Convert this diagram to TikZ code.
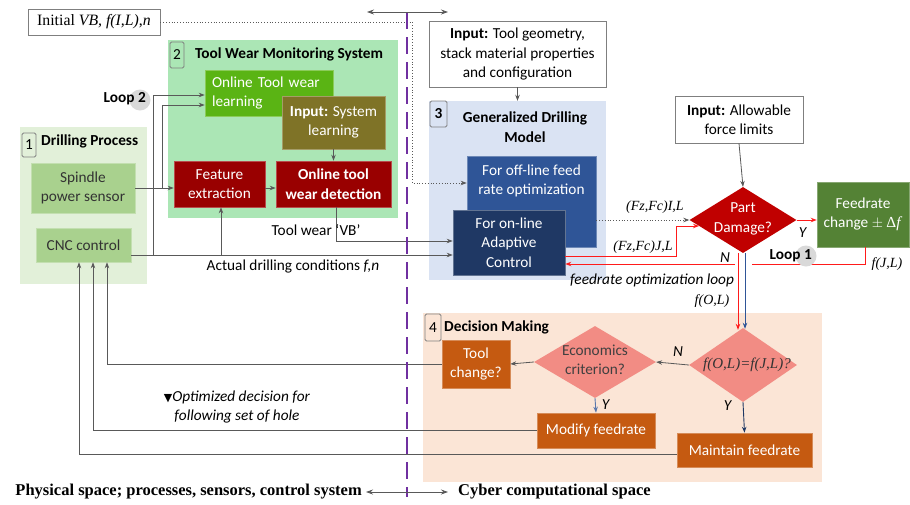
\documentclass[tikz,border=0pt]{standalone}
\usepackage{fontspec}
\setmainfont{Carlito}
\newfontfamily\serifface{Liberation Serif}
\newfontfamily\symface{DejaVu Sans}
\usetikzlibrary{shapes.geometric,arrows.meta,calc}

\definecolor{lgrey}{HTML}{595959}
\definecolor{numgrey}{HTML}{7F7F7F}
\definecolor{bgone}{HTML}{E2F0D9}
\definecolor{bgtwo}{HTML}{ABE6B5}
\definecolor{bgthree}{HTML}{DAE3F3}
\definecolor{bgfour}{HTML}{FBE5D6}
\definecolor{sensgreen}{HTML}{A9D18E}
\definecolor{learngreen}{HTML}{5AB414}
\definecolor{olive}{HTML}{7F7327}
\definecolor{darkred}{HTML}{990000}
\definecolor{damagered}{HTML}{C00000}
\definecolor{changegreen}{HTML}{548235}
\definecolor{offblue}{HTML}{2F5597}
\definecolor{onnavy}{HTML}{1F3864}
\definecolor{decorange}{HTML}{C55A11}
\definecolor{pinkdia}{HTML}{F28C84}
\definecolor{purpleline}{HTML}{7030A0}
\definecolor{looplabel}{HTML}{D9D9D9}
\definecolor{hotred}{HTML}{FF1A1A}

\newcommand{\sit}[1]{{\serifface\itshape #1}}

\begin{document}
\begin{tikzpicture}[x=1pt,y=-1pt,
  font=\fontsize{15.3}{19.5}\selectfont,
  group/.style={inner sep=0pt, draw=none},
  blk/.style={inner sep=2pt, align=center, text=white, line width=0.6pt},
  inbox/.style={draw=numgrey, fill=white, line width=0.8pt, align=center, inner sep=2pt},
  num/.style={draw=numgrey, rounded corners=1.5pt, inner sep=0pt, line width=0.8pt},
  dia/.style={diamond, inner sep=0pt, draw=none},
  conn/.style={draw=lgrey, line width=0.8pt},
  tip/.style={-{Stealth[length=6pt,width=4.5pt]}},
  arr/.style={conn, tip},
  redarr/.style={draw=hotred, line width=1pt, tip},
  bluearr/.style={draw=offblue, line width=0.9pt, tip},
  lbl/.style={inner sep=1pt},
  titl/.style={font=\fontsize{15.3}{20}\selectfont\bfseries, inner sep=0pt},
  sidelbl/.style={inner sep=0pt, font=\fontsize{16.5}{20}\selectfont\serifface\bfseries}
]
\useasboundingbox (0,0) rectangle (910,504);

% ---------- group panels ----------
\node[group, fill=bgone, minimum width=127pt, minimum height=157pt] (dp) at (83.5,205.5) {};
\node[group, fill=bgtwo, minimum width=230pt, minimum height=178pt] (tw) at (283,129) {};
\node[group, fill=bgthree, minimum width=177pt, minimum height=179pt] (gdm) at (517.5,190.5) {};
\node[group, fill=bgfour, minimum width=399pt, minimum height=169pt] (dm) at (622.5,397.5) {};

\node[num, minimum width=14pt, minimum height=24pt] (n1) at (29,145) {1};
\node[num, minimum width=14pt, minimum height=26pt] (n2) at (177,55) {2};
\node[num, minimum width=17pt, minimum height=26pt, font=\fontsize{15.3}{19.5}\selectfont\bfseries] (n3) at (438.5,114) {3};
\node[num, minimum width=16pt, minimum height=27pt] (n4) at (433,327.5) {4};

\node[titl, anchor=west] (t1) at (41,141) {Drilling Process};
\node[titl, anchor=west] (t2) at (195,54) {Tool Wear Monitoring System};
\node[titl, align=center] (t3) at (525,127.5) {Generalized Drilling\\Model};
\node[titl, anchor=west] (t4) at (444,327) {Decision Making};

% ---------- blocks ----------
\node[inbox, minimum width=132pt, minimum height=26pt, font=\fontsize{15.8}{19}\selectfont] (init) at (94,22)
  {\serifface Initial \textit{VB, f(I,L)},\textit{n}};

\node[blk, fill=sensgreen, draw=sensgreen!70!white, text=black!80, minimum width=104pt, minimum height=50pt] (sps) at (83,188) {Spindle\\power sensor};
\node[blk, fill=sensgreen, draw=sensgreen!70!white, text=black!80, minimum width=95pt, minimum height=34pt] (cnc) at (83.5,245) {CNC control};

\node[blk, fill=learngreen, draw=learngreen!70!white, minimum width=128pt, minimum height=46pt, align=left, text width=114pt] (otl) at (269,93) {Online Tool wear\\learning};
\node[blk, fill=olive, draw=olive!70!white, minimum width=103pt, minimum height=53pt] (isl) at (333.5,122.5) {\textbf{Input:} System\\learning};
\node[blk, fill=darkred, draw=darkred!70!white, minimum width=91pt, minimum height=46pt] (fe) at (219.5,184) {Feature\\extraction};
\node[blk, fill=darkred, draw=darkred!70!white, minimum width=115pt, minimum height=46pt, font=\fontsize{15.3}{19.5}\selectfont\bfseries] (otd) at (333.5,184) {Online tool\\wear detection};

\node[inbox, minimum width=177pt, minimum height=66pt] (itg) at (517.5,54)
  {\textbf{Input:} Tool geometry,\\stack material properties\\and configuration};
\node[blk, fill=offblue, draw=offblue!70!white, minimum width=129pt, minimum height=91pt] (off) at (531.5,201.5) {};
\node[lbl, text=white, align=center] (offt) at (531.5,181) {For off-line feed\\rate optimization};
\node[blk, fill=onnavy, draw=onnavy!70!white, minimum width=112pt, minimum height=65pt] (on) at (509,242.5) {For on-line\\Adaptive\\Control};

\node[inbox, minimum width=128pt, minimum height=47pt] (afl) at (739,119.5) {\textbf{Input:} Allowable\\force limits};
\node[dia, fill=damagered, minimum width=107pt, minimum height=66pt] (pd) at (743,220) {};
\node[lbl, text=white, align=center] (pdt) at (743,219) {Part\\Damage?};
\node[blk, fill=changegreen, draw=changegreen!70!white, minimum width=92pt, minimum height=65pt] (fcd) at (863,214.5) {Feedrate\\change $\pm$ {\serifface Δ\textit{f}}};

\node[blk, fill=decorange, draw=decorange!70!white, minimum width=68pt, minimum height=48pt] (tc) at (476,364) {Tool\\change?};
\node[dia, fill=pinkdia, minimum width=122pt, minimum height=72pt] (ec) at (595,362) {};
\node[lbl, text=black!75, align=center] (ect) at (595,360) {Economics\\criterion?};
\node[dia, fill=pinkdia, minimum width=108pt, minimum height=74pt] (fo) at (743,365) {};
\node[lbl, text=black!80, font=\fontsize{15}{18}\selectfont] (fot) at (747,365) {\sit{f(O,L)=f(J,L)?}};
\node[blk, fill=decorange, draw=decorange!70!white, minimum width=118pt, minimum height=35pt] (mf) at (596,430.5) {Modify feedrate};
\node[blk, fill=decorange, draw=decorange!70!white, minimum width=135pt, minimum height=34pt] (mt) at (744.5,450) {Maintain feedrate};

% ---------- bend and junction points ----------
\coordinate (bendA) at (412,183);
\coordinate (j1) at (162,188);
\coordinate (j2) at (153,255);
\coordinate (j3) at (221,255);
\coordinate (k1) at (676,226);
\coordinate (g1) at (752,264);
\coordinate (g2) at (735,264);
\coordinate (ta1) at (367,12);
\coordinate (ta2) at (448,12);
\coordinate (pv1) at (407,12);
\coordinate (pv2) at (407,497);

% ---------- physical side connectors ----------
\draw[conn, dotted, tip] (init.east) -| (bendA) -- (bendA -| off.west);
\draw[arr] (sps.east) -- (sps.east -| fe.west);
\draw[arr] (j1) |- ([yshift=-12pt]otl.west);
\draw[arr] ([yshift=-10pt]cnc.east) -- ([yshift=-12.5pt]on.west);
\draw[arr] (j2) |- ([yshift=-2pt]otl.west);
\draw[arr] (j3) -- (j3 |- fe.south);
\draw[arr] ([yshift=-4pt]fe.east) -- ([yshift=-4pt]otd.west);
\draw[arr] (isl.south) -- (otd.north);
\draw[arr] ([xshift=2.5pt]otd.south) |- ([yshift=1.5pt]on.west);
\draw[arr] (itg.south) -- (gdm.north);

% ---------- feedrate loop ----------
\draw[conn, dotted, tip] ([yshift=-18.5pt]off.east) -- (pd.west);
\draw[redarr] ([yshift=-13.5pt]on.east) -| (k1) -- ($(pd.west)+(9.7,6)$);
\draw[arr] (afl.south) -- (pd.north);
\draw[redarr] (pd.east) -- (pd.east -| fcd.west);
\draw[draw=hotred, line width=1pt] ([xshift=2pt]fcd.south) |- (g1);
\draw[redarr] (g2) -- (g2 -| on.east);
\draw[redarr] ([xshift=-5pt]pd.south) -- ([xshift=-5pt,yshift=-2pt]fo.north);
\draw[bluearr] ([xshift=2pt]pd.south) -- ([xshift=2pt,yshift=-1pt]fo.north);

% ---------- decision making ----------
\draw[arr] (fo.west) -- (ec.east);
\draw[arr] (ec.west) -- (tc.east);
\draw[bluearr, draw=offblue!80!white] (ec.south) -- (mf.north);
\draw[bluearr, draw=onnavy] (fo.south) -- (mt.north);
\draw[arr] (tc.west) -| ([xshift=23.5pt]cnc.south);
\draw[arr] (mf.west) -| ([xshift=9.5pt]cnc.south);
\draw[arr] ([yshift=-4pt]mt.west) -| ([xshift=-4.5pt]cnc.south);

% ---------- labels ----------
\node[lbl] (lvb) at (316,230) {Tool wear ‘VB’};
\node[lbl] (lact) at (293,266) {Actual drilling conditions \textit{f,n}};
\node[lbl, font=\fontsize{14}{18}\selectfont] (lfi) at (655,207) {\sit{(Fz,Fc)I,L}};
\node[lbl, font=\fontsize{14}{18}\selectfont] (lfj) at (643,247) {\sit{(Fz,Fc)J,L}};
\node[lbl] (ly1) at (803,233) {\textit{Y}};
\node[lbl, font=\fontsize{14}{18}\selectfont] (lfjl) at (887,264) {\sit{f(J,L)}};
\node[lbl] (ln1) at (725,258) {\textit{N}};
\node[lbl] (lopt) at (652,280) {\textit{feedrate optimization loop}};
\node[lbl, font=\fontsize{14}{18}\selectfont] (lfol) at (712,301) {\sit{f(O,L)}};
\node[lbl] (ln2) at (678,352) {\textit{N}};
\node[lbl] (ly2) at (606,405) {\textit{Y}};
\node[lbl] (ly3) at (728,406) {\textit{Y}};

\fill[looplabel] (806,256) circle (10.5pt);
\node[titl, anchor=east] (loop1) at (812,256) {Loop 1};
\fill[looplabel] (140,100) circle (10.5pt);
\node[titl, anchor=east] (loop2) at (146,99) {Loop 2};

\node[lbl, align=center] (lod) at (237,407)
  {{\symface\fontsize{11}{14}\selectfont ▼}\textit{Optimized decision for}\\\textit{following set of hole}};

% ---------- physical / cyber divide ----------
\draw[purpleline, line width=1.6pt, dash pattern=on 17pt off 8pt] (pv1) -- (pv2);
\draw[conn, {Stealth[length=7pt,width=5pt]}-{Stealth[length=7pt,width=5pt]}] (ta1) -- (ta2);
\node[sidelbl, anchor=east] (phys) at (362,492)
  {Physical space; processes, sensors, control system};
\node[sidelbl, anchor=west] (cyber) at (458,492)
  {Cyber computational space};
\draw[conn, {Stealth[length=7pt,width=5pt]}-{Stealth[length=7pt,width=5pt]}] ([xshift=4pt]phys.east) -- ([xshift=-10pt]cyber.west);
\end{tikzpicture}
\end{document}
